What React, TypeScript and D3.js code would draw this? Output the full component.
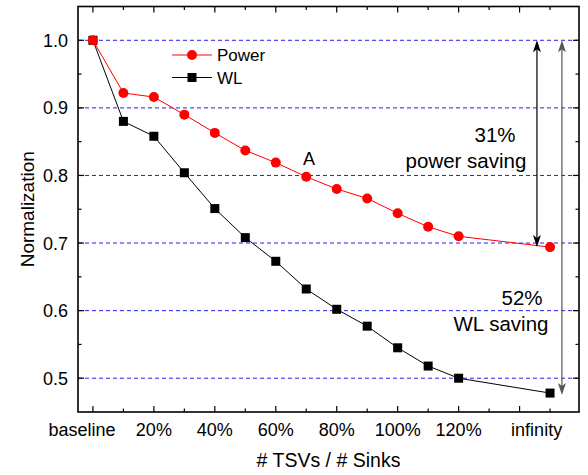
import * as d3 from 'd3';
import { useEffect, useRef } from 'react';

const ratios = [0, 10, 20, 30, 40, 50, 60, 70, 80, 90, 100, 110, 120, 150];
const powerValues = [1.0, 0.922, 0.916, 0.890, 0.863, 0.837, 0.819, 0.798, 0.780, 0.766, 0.744, 0.724, 0.710, 0.694];
const wlValues = [1.0, 0.880, 0.858, 0.804, 0.751, 0.708, 0.673, 0.632, 0.602, 0.577, 0.545, 0.518, 0.500, 0.478];
const xTickLabels = ['baseline', '20%', '40%', '60%', '80%', '100%', '120%'];
const xTickValues = [0, 20, 40, 60, 80, 100, 120];
const yTickValues = [0.5, 0.6, 0.7, 0.8, 0.9, 1.0];

const FONT = '"Liberation Sans", Arial, sans-serif';

export default function App() {
    const svgRef = useRef<SVGSVGElement>(null);
    const width = 588;
    const height = 475;

    useEffect(() => {
        document.body.style.margin = '0';
        const svg = d3.select(svgRef.current);
        svg.selectAll('*').remove();

        const x = d3.scaleLinear().domain([-4.9, 159.5]).range([78, 579]);
        const y = d3.scaleLinear().domain([0.45, 1.05]).range([412, 6.5]);
        const [x0, x1] = x.range();
        const [yb, yt] = y.range();

        svg.append('rect').attr('width', width).attr('height', height).attr('fill', 'white');

        // dashed grid
        svg.append('g')
            .selectAll('line')
            .data(yTickValues)
            .enter()
            .append('line')
            .attr('x1', x0).attr('x2', x1)
            .attr('y1', (d) => y(d)).attr('y2', (d) => y(d))
            .attr('stroke', '#2222ee')
            .attr('stroke-width', 1)
            .attr('stroke-dasharray', '4,3');

        // ticks on all four sides, pointing in
        const xMajor = d3.range(0, 141, 20);
        const xMinor = d3.range(10, 151, 20);
        const yMajor = yTickValues;
        const yMinor = [0.55, 0.65, 0.75, 0.85, 0.95];
        const ticks = svg.append('g').attr('stroke', 'black').attr('stroke-width', 1.2);
        const addX = (vals: number[], len: number) => {
            vals.forEach((v) => {
                ticks.append('line').attr('x1', x(v)).attr('x2', x(v)).attr('y1', yb).attr('y2', yb - len);
                ticks.append('line').attr('x1', x(v)).attr('x2', x(v)).attr('y1', yt).attr('y2', yt + len);
            });
        };
        const addY = (vals: number[], len: number) => {
            vals.forEach((v) => {
                ticks.append('line').attr('x1', x0).attr('x2', x0 + len).attr('y1', y(v)).attr('y2', y(v));
                ticks.append('line').attr('x1', x1).attr('x2', x1 - len).attr('y1', y(v)).attr('y2', y(v));
            });
        };
        addX(xMajor, 6);
        addX(xMinor, 3.5);
        addY(yMajor, 6);
        addY(yMinor, 3.5);

        svg.append('rect')
            .attr('x', x0).attr('y', yt)
            .attr('width', x1 - x0).attr('height', yb - yt)
            .attr('fill', 'none')
            .attr('stroke', 'black')
            .attr('stroke-width', 1.6);

        // tick labels
        svg.append('g')
            .selectAll('text')
            .data(xTickValues)
            .enter()
            .append('text')
            .attr('x', (d) => x(d) + (d === 0 ? -11 : 0))
            .attr('y', 436)
            .attr('text-anchor', 'middle')
            .style('font-family', FONT)
            .style('font-size', '18px')
            .text((_, i) => xTickLabels[i]);

        svg.append('text')
            .attr('x', x(145.6))
            .attr('y', 436)
            .attr('text-anchor', 'middle')
            .style('font-family', FONT)
            .style('font-size', '18px')
            .text('infinity');

        svg.append('g')
            .selectAll('text')
            .data(yTickValues)
            .enter()
            .append('text')
            .attr('x', 68)
            .attr('y', (d) => y(d) + 6.5)
            .attr('text-anchor', 'end')
            .style('font-family', FONT)
            .style('font-size', '18px')
            .text((d) => d.toFixed(1));

        svg.append('text')
            .attr('x', (x0 + x1) / 2)
            .attr('y', 467)
            .attr('text-anchor', 'middle')
            .style('font-family', FONT)
            .style('font-size', '19.5px')
            .text('# TSVs / # Sinks');

        svg.append('text')
            .attr('transform', `translate(34, ${(yb + yt) / 2}) rotate(-90)`)
            .attr('text-anchor', 'middle')
            .style('font-family', FONT)
            .style('font-size', '19px')
            .text('Normalization');

        // series
        const line = d3.line<number>().x((_, i) => x(ratios[i])).y((d) => y(d));

        svg.append('path')
            .datum(wlValues)
            .attr('d', line)
            .attr('fill', 'none')
            .attr('stroke', 'black')
            .attr('stroke-width', 1);

        svg.append('path')
            .datum(powerValues)
            .attr('d', line)
            .attr('fill', 'none')
            .attr('stroke', '#ff0000')
            .attr('stroke-width', 1);

        svg.append('g')
            .selectAll('rect')
            .data(wlValues)
            .enter()
            .append('rect')
            .attr('x', (_, i) => x(ratios[i]) - 4.5)
            .attr('y', (d) => y(d) - 4.5)
            .attr('width', 9)
            .attr('height', 9)
            .attr('fill', 'black');

        svg.append('g')
            .selectAll('circle')
            .data(powerValues)
            .enter()
            .append('circle')
            .attr('cx', (_, i) => x(ratios[i]))
            .attr('cy', (d) => y(d))
            .attr('r', 5)
            .attr('fill', '#ff0000');

        // legend
        const legend = svg.append('g').style('font-family', FONT).style('font-size', '17px');
        legend.append('line').attr('x1', 172).attr('x2', 212).attr('y1', 55).attr('y2', 55).attr('stroke', '#ff0000');
        legend.append('circle').attr('cx', 192).attr('cy', 55).attr('r', 5).attr('fill', '#ff0000');
        legend.append('text').attr('x', 217).attr('y', 61).text('Power');
        legend.append('line').attr('x1', 172).attr('x2', 212).attr('y1', 77.5).attr('y2', 77.5).attr('stroke', 'black');
        legend.append('rect').attr('x', 187.5).attr('y', 73).attr('width', 9).attr('height', 9).attr('fill', 'black');
        legend.append('text').attr('x', 217).attr('y', 84).text('WL');

        // annotations
        const arrowHead = (cx: number, cy: number, dir: number, color: string) => {
            // dir = -1 points up, 1 points down
            const p = d3.path();
            p.moveTo(cx, cy);
            p.lineTo(cx - 4, cy - dir * 12);
            p.lineTo(cx, cy - dir * 9);
            p.lineTo(cx + 4, cy - dir * 12);
            p.closePath();
            svg.append('path').attr('d', p.toString()).attr('fill', color);
        };
        const doubleArrow = (xv: number, from: number, to: number, color: string) => {
            svg.append('line')
                .attr('x1', x(xv)).attr('x2', x(xv))
                .attr('y1', y(from) + 4).attr('y2', y(to) - 4)
                .attr('stroke', color)
                .attr('stroke-width', 1.2);
            arrowHead(x(xv), y(from), -1, color);
            arrowHead(x(xv), y(to), 1, color);
        };
        doubleArrow(145.7, 1.0, powerValues[powerValues.length - 1], 'black');
        doubleArrow(153.9, 1.0, 0.475, '#555555');

        const notes = svg.append('g').style('font-family', FONT).style('font-size', '20.5px').attr('text-anchor', 'middle');
        notes.append('text').attr('x', 495).attr('y', 142).text('31%');
        notes.append('text').attr('x', 466).attr('y', 168).text('power saving');
        notes.append('text').attr('x', 522).attr('y', 305).text('52%');
        notes.append('text').attr('x', 501).attr('y', 331).text('WL saving');
        notes.append('text').attr('x', 309).attr('y', 165).style('font-size', '18px').text('A');
    }, []);

    return (
        <div>
            <svg ref={svgRef} width={width} height={height}></svg>
        </div>
    );
}
